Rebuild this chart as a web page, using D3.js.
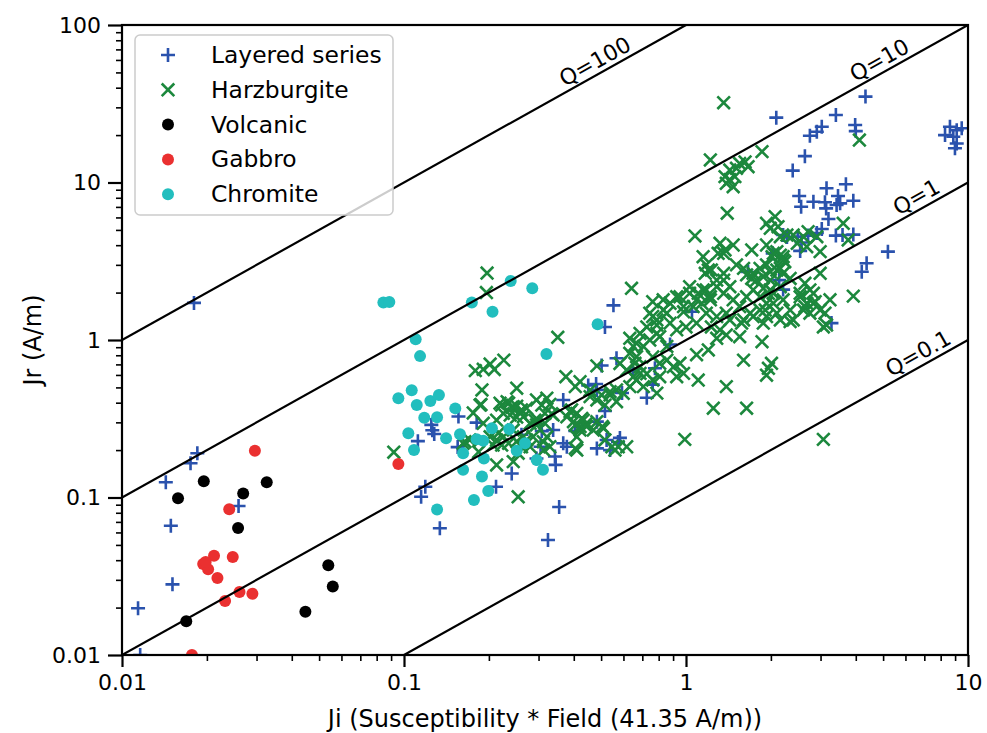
<!DOCTYPE html>
<html>
<head>
<meta charset="utf-8">
<script src="https://cdn.jsdelivr.net/npm/d3@7/dist/d3.min.js"></script>
<style>
  body { margin: 0; background: #fff; }
  svg { display: block; }
  text { font-family: "DejaVu Sans", "Liberation Sans", sans-serif; fill: #000; }
</style>
</head>
<body>
<svg id="chart" width="987" height="733"></svg>
<script>
// ---- data: [Ji, Jr] pairs in A/m ----
const layered = [
  [0.0185,0.191],[0.0175,0.165],[0.0143,0.125],[0.0259,0.0883],[0.0149,0.0662],[0.0151,0.0281],
  [0.0114,0.0198],[0.0116,0.01],[0.018,1.72],
  [0.156,0.327],[0.181,0.299],[0.125,0.289],[0.126,0.267],[0.128,0.253],[0.112,0.228],[0.155,0.209],
  [0.119,0.117],[0.115,0.101],[0.241,0.142],[0.212,0.117],[0.134,0.0638],[0.355,0.087],[0.324,0.0537],
  [0.308,0.264],[0.338,0.268],[0.378,0.21],[0.343,0.182],[0.345,0.161],[0.261,0.25],[0.305,0.21],
  [0.295,0.177],[0.367,0.416],[0.405,0.265],[0.432,0.296],[0.483,0.303],[0.516,0.354],[0.483,0.205],
  [0.523,0.232],[0.583,0.239],[0.574,0.225],[0.538,0.2],[0.45,0.514],[0.48,0.525],[0.483,0.482],
  [0.502,0.689],[0.567,0.765],[0.553,1.66],[0.516,1.21],[0.647,0.645],[0.776,0.661],[0.762,0.521],
  [0.726,0.43],[0.593,0.461],[0.878,0.937],[1.05,1.51],[0.367,0.221],
  [2.09,25.8],[3.4,26.8],[4.33,35.1],[3.98,23.2],[4.0,21.2],[3.03,22.6],[2.91,21.0],[2.75,19.8],
  [2.64,14.7],[2.39,11.9],[3.15,9.2],[3.69,9.74],[2.52,8.21],[2.56,7.02],[2.83,7.55],[3.11,7.5],
  [3.14,6.85],[3.46,8.2],[3.52,7.37],[3.42,7.19],[3.92,7.66],[3.2,5.87],[3.03,5.07],[2.91,4.78],
  [2.21,4.64],[2.49,4.53],[2.57,4.16],[2.54,3.68],[3.4,4.6],[3.59,4.64],[3.92,4.67],[2.03,3.55],
  [5.2,3.64],[4.37,3.07],[4.2,2.71],[1.66,2.7],[2.14,2.4],[2.21,2.09],[3.28,1.28],[2.28,4.5],
  [2.71,4.6],
  [8.63,22.6],[9.12,21.5],[9.5,22.1],[8.29,20.0],[8.87,19.5],[9.12,17.7],[8.99,16.5]
];

const harzburgite = [
  [0.092,0.194],[0.197,2.66],[0.196,2.0],[0.179,0.639],[0.191,0.652],[0.202,0.704],[0.209,0.65],
  [0.226,0.745],[0.189,0.482],[0.1875,0.389],[0.176,0.344],[0.251,0.494],[0.222,0.386],[0.235,0.397],
  [0.241,0.374],[0.251,0.38],[0.261,0.36],[0.272,0.369],[0.225,0.342],[0.238,0.334],[0.251,0.324],
  [0.265,0.326],[0.28,0.296],[0.295,0.416],[0.308,0.386],[0.321,0.427],[0.329,0.39],[0.334,0.34],
  [0.316,0.342],[0.299,0.31],[0.375,0.585],[0.405,0.506],[0.421,0.544],[0.457,0.48],[0.483,0.685],
  [0.388,0.351],[0.41,0.342],[0.427,0.318],[0.444,0.296],[0.421,0.282],[0.399,0.303],[0.378,0.325],
  [0.483,0.416],[0.502,0.448],[0.516,0.386],[0.538,0.448],[0.567,0.482],[0.312,0.226],[0.313,0.2],
  [0.329,0.21],[0.321,0.243],[0.272,0.232],[0.287,0.243],[0.28,0.21],[0.254,0.191],[0.244,0.169],
  [0.213,0.161],[0.1645,0.226],[0.184,0.195],[0.216,0.256],[0.225,0.243],[0.235,0.221],[0.251,0.227],
  [0.261,0.21],[0.222,0.215],[0.254,0.101],[0.516,0.232],[0.51,0.275],[0.546,0.21],[0.575,0.21],
  [0.41,0.2],[0.186,0.386],[0.219,0.397],[0.232,0.406],[0.244,0.377],[0.258,0.351],[0.213,0.31],
  [0.191,0.296],[0.291,0.31],[0.316,0.296],[0.338,0.334],[0.393,0.36],[0.432,0.31],[0.405,0.289],
  [0.444,0.282],[0.421,0.268],[0.469,0.268],[0.483,0.303],[0.505,0.282],[0.457,0.437],[0.538,0.47],
  [0.567,0.406],[0.599,0.459],[0.632,0.506],[0.65,0.585],[0.659,0.711],[0.632,1.025],[0.668,0.953],
  [0.295,0.289],[0.265,0.243],[0.244,0.268],[0.207,0.215],[0.213,0.232],[0.162,0.221],[0.171,0.232],
  [0.202,0.243],[0.405,0.205],[0.41,0.243],[0.56,0.2],[0.616,0.21],[0.687,0.614],[0.351,1.04],
  [0.641,2.13],[0.583,0.71],[0.616,0.645],[0.632,0.823],[0.668,0.783],[0.706,0.91],[0.744,1.0],
  [0.807,1.05],[0.855,0.91],[0.762,0.78],[0.687,0.676],[0.726,0.61],[0.807,0.711],[0.855,0.745],
  [0.902,0.676],[0.952,0.711],[0.98,0.614],[0.927,0.585],[0.668,0.557],[0.706,0.506],[0.762,0.557],
  [0.788,0.46],[0.807,0.585],[0.744,1.48],[0.788,1.34],[0.83,1.55],[0.878,1.71],[0.927,1.88],
  [0.98,1.63],[1.03,1.98],[1.09,1.8],[1.15,2.08],[1.22,1.88],[1.285,2.18],[1.36,1.98],[1.43,2.18],
  [1.47,1.8],[1.55,1.63],[1.64,1.88],[1.73,2.08],[1.83,1.88],[1.93,1.71],[2.04,1.98],[1.83,1.55],
  [1.73,1.41],[1.93,1.41],[1.39,1.48],[1.285,1.41],[1.18,1.48],[1.09,1.28],[1.0,1.21],[0.927,1.16],
  [0.878,1.28],[0.726,1.21],[0.687,1.1],[0.65,0.91],[0.788,1.1],[0.762,1.75],[0.83,1.8],[0.952,1.88],
  [1.03,2.18],[1.105,1.98],[1.18,2.08],[1.22,1.8],[1.137,1.71],[1.06,1.63],[0.98,1.51],[0.855,1.48],
  [0.762,1.41],[0.788,1.245],[1.23,1.21],[1.32,1.16],[1.285,1.025],[1.39,1.076],[1.55,1.05],
  [1.575,1.28],[1.86,0.975],[1.2,0.865],[1.09,0.807],[1.105,0.557],[1.6,0.745],[2.01,0.711],
  [1.96,0.661],[1.93,0.598],[1.39,0.506],[1.25,0.369],[1.64,0.369],[0.99,0.234],[3.07,0.234],
  [2.34,1.31],[2.61,1.55],[2.83,1.71],[3.11,1.48],[3.07,1.21],[3.24,1.8],[2.54,1.88],[3.92,1.9],
  [3.15,1.245],[2.4,1.34],[2.75,1.48],[2.87,1.75],[2.99,1.55],[2.68,1.71],[2.21,1.8],[2.04,1.71],
  [1.91,1.55],[2.1,1.48],[2.34,1.55],[2.16,1.34],[1.88,1.28],[1.6,1.34],[1.43,1.34],[1.69,1.48],
  [1.99,2.08],[1.88,2.52],[1.96,1.98],[2.16,2.18],[1.88,2.13],[1.99,2.4],[2.64,2.29],[2.75,2.08],
  [2.64,1.63],[2.99,2.65],[2.83,1.98],[2.54,1.98],[1.71,2.46],[1.93,3.0],[1.99,2.71],[2.16,2.85],
  [2.21,2.65],[2.34,2.46],[1.6,2.85],[1.64,2.59],[1.73,2.65],[1.78,2.4],[1.36,2.65],[1.285,2.4],
  [1.36,2.4],[1.15,3.38],[1.18,3.0],[1.2,2.78],[1.17,2.65],[1.23,2.78],[1.51,3.0],[1.83,2.85],
  [1.71,3.73],[1.32,4.11],[1.47,4.01],[1.36,3.55],[1.93,4.01],[2.04,3.55],[2.21,3.38],[2.4,4.64],
  [2.48,4.11],[1.076,4.58],[1.3,3.55],[1.375,3.73],[2.1,3.64],[2.02,3.38],[2.21,3.22],[2.07,6.07],
  [1.93,5.51],[1.99,5.12],[2.12,5.24],[2.28,4.64],[2.16,4.53],[2.61,4.53],[2.71,4.87],[2.91,4.53],
  [2.68,3.91],[2.99,3.64],[2.16,3.46],[2.24,3.14],[2.1,2.78],[3.61,5.51],[3.76,4.32],[1.4,6.38],
  [1.86,15.7],[1.22,13.9],[1.55,13.2],[1.62,13.5],[1.66,12.6],[1.51,12.3],[1.43,12.0],[1.375,10.9],
  [1.43,10.4],[1.49,10.9],[1.39,9.88],[1.47,9.41],[1.36,32.1],[4.12,18.6]
];

const volcanic = [
  [0.0158,0.099],[0.0195,0.127],[0.0269,0.106],[0.0326,0.125],[0.0258,0.064],
  [0.0539,0.0371],[0.0559,0.0272],[0.0447,0.0188],[0.0169,0.0164]
];

const gabbro = [
  [0.0296,0.198],[0.024,0.0841],[0.0212,0.0427],[0.0194,0.0378],[0.0202,0.035],[0.0198,0.039],
  [0.0247,0.0419],[0.0218,0.0308],[0.0261,0.0251],[0.029,0.0245],[0.0232,0.022],[0.0177,0.01],
  [0.0955,0.163]
];

const chromite = [
  [0.0845,1.73],[0.0887,1.74],[0.174,1.73],[0.206,1.51],[0.239,2.37],[0.285,2.13],[0.11,1.01],
  [0.114,0.79],[0.32,0.815],[0.486,1.26],[0.0955,0.427],[0.1065,0.48],[0.111,0.387],[0.124,0.41],
  [0.133,0.448],[0.152,0.368],[0.118,0.321],[0.131,0.323],[0.1036,0.256],[0.1085,0.2],[0.141,0.238],
  [0.158,0.252],[0.162,0.191],[0.181,0.234],[0.191,0.229],[0.192,0.177],[0.205,0.275],[0.236,0.272],
  [0.251,0.198],[0.162,0.15],[0.189,0.136],[0.199,0.11],[0.177,0.0964],[0.131,0.084],[0.2685,0.221],
  [0.2955,0.173],[0.311,0.15]
];

// Q = Jr / Ji reference lines
const qValues = [100, 10, 1, 0.1];
const qLabels = ["Q=100", "Q=10", "Q=1", "Q=0.1"];
const qLabelJi = [0.5, 5.1, 6.9, 7.0];   // where along each line its label sits

const xTicks = [0.01, 0.1, 1, 10];
const yTicks = [0.01, 0.1, 1, 10, 100];
const xTickLabels = ["0.01", "0.1", "1", "10"];
const yTickLabels = ["0.01", "0.1", "1", "10", "100"];

const series = [
  { name: "Layered series", data: layered,     shape: "plus",   color: "#2a52ad" },
  { name: "Harzburgite",    data: harzburgite, shape: "cross",  color: "#1c883d" },
  { name: "Volcanic",       data: volcanic,    shape: "circle", color: "#000000" },
  { name: "Gabbro",         data: gabbro,      shape: "circle", color: "#ea3030" },
  { name: "Chromite",       data: chromite,    shape: "circle", color: "#22bebe" }
];

// ---- layout ----
const plot = { left: 122, right: 968, top: 25, bottom: 655 };
const tickFont = "22px", titleFont = "24px", legendFont = "23.4px";

const svg = d3.select("#chart");
const x = d3.scaleLog().domain([0.01, 10]).range([plot.left, plot.right]);
const y = d3.scaleLog().domain([0.01, 100]).range([plot.bottom, plot.top]);

svg.append("defs").append("clipPath").attr("id", "plotClip")
  .append("rect")
  .attr("x", plot.left).attr("y", plot.top)
  .attr("width", plot.right - plot.left).attr("height", plot.bottom - plot.top);

const minorValues = (lo, hi) => {
  const out = [];
  for (let e = Math.log10(lo); e < Math.log10(hi); e++)
    for (let m = 2; m <= 9; m++) out.push(m * Math.pow(10, e));
  return out;
};

// ---- markers ----
const markerLayer = svg.append("g").attr("clip-path", "url(#plotClip)");
const plusPath = "M-7,0H7M0,-7V7";
const crossPath = "M-6.3,-6.3L6.3,6.3M-6.3,6.3L6.3,-6.3";

function drawMarker(sel, shape, color) {
  if (shape === "circle") {
    sel.append("circle").attr("r", 6).attr("fill", color);
  } else {
    sel.append("path")
      .attr("d", shape === "plus" ? plusPath : crossPath)
      .attr("fill", "none").attr("stroke", color).attr("stroke-width", 2.6);
  }
}

series.forEach(s => {
  const g = markerLayer.append("g");
  s.data.forEach(d => {
    const m = g.append("g").attr("transform", `translate(${x(d[0])},${y(d[1])})`);
    drawMarker(m, s.shape, s.color);
  });
});

// ---- Q lines ----
const lineLayer = svg.append("g").attr("clip-path", "url(#plotClip)");
const line = d3.line().x(d => x(d[0])).y(d => y(d[1]));
qValues.forEach(q => {
  const lo = Math.max(0.01, 0.01 / q), hi = Math.min(10, 100 / q);
  lineLayer.append("path")
    .attr("d", line([[lo, q * lo], [hi, q * hi]]))
    .attr("fill", "none").attr("stroke", "#000").attr("stroke-width", 2.2);
});

// labels along each line
qValues.forEach((q, i) => {
  const ji = qLabelJi[i];
  const px = x(ji), py = y(q * ji);
  const ang = Math.atan2(y(10) - y(1), x(10) - x(1));
  const off = 12.5;
  const cx = px + Math.sin(ang) * off, cy = py - Math.cos(ang) * off;
  svg.append("text")
    .attr("transform", `translate(${cx},${cy}) rotate(${ang * 180 / Math.PI})`)
    .attr("text-anchor", "middle").attr("dominant-baseline", "central")
    .style("font-size", "22px")
    .text(qLabels[i]);
});

// ---- axes ----
const xAxis = svg.append("g").attr("transform", `translate(0,${plot.bottom})`)
  .call(d3.axisBottom(x).tickValues(xTicks).tickSize(12).tickPadding(7)
    .tickFormat((d, i) => xTickLabels[i]));
svg.append("g").attr("transform", `translate(0,${plot.bottom})`)
  .call(d3.axisBottom(x).tickValues(minorValues(0.01, 10)).tickSize(6).tickFormat(""))
  .call(g => g.select(".domain").remove())
  .selectAll("line").attr("stroke-width", 1.6);

const yAxis = svg.append("g").attr("transform", `translate(${plot.left},0)`)
  .call(d3.axisLeft(y).tickValues(yTicks).tickSize(14).tickPadding(7)
    .tickFormat((d, i) => yTickLabels[i]));
svg.append("g").attr("transform", `translate(${plot.left},0)`)
  .call(d3.axisLeft(y).tickValues(minorValues(0.01, 100)).tickSize(6).tickFormat(""))
  .call(g => g.select(".domain").remove())
  .selectAll("line").attr("stroke-width", 1.6);

[xAxis, yAxis].forEach(a => {
  a.select(".domain").remove();
  a.selectAll(".tick line").attr("stroke-width", 2.2);
  a.selectAll(".tick text").style("font-size", tickFont)
    .style("font-family", '"DejaVu Sans", sans-serif');
});

// frame
svg.append("rect")
  .attr("x", plot.left).attr("y", plot.top)
  .attr("width", plot.right - plot.left).attr("height", plot.bottom - plot.top)
  .attr("fill", "none").attr("stroke", "#000").attr("stroke-width", 2.2);

// axis titles
svg.append("text")
  .attr("x", (plot.left + plot.right) / 2).attr("y", 727)
  .attr("text-anchor", "middle").style("font-size", titleFont)
  .text("Ji (Susceptibility * Field (41.35 A/m))");
svg.append("text")
  .attr("transform", `translate(41,${(plot.top + plot.bottom) / 2}) rotate(-90)`)
  .attr("text-anchor", "middle").style("font-size", titleFont)
  .text("Jr (A/m)");

// ---- legend ----
const legend = svg.append("g").attr("transform", "translate(135,35)");
legend.append("rect")
  .attr("width", 258).attr("height", 180).attr("rx", 5)
  .attr("fill", "#fff").attr("fill-opacity", 0.8)
  .attr("stroke", "#cccccc").attr("stroke-width", 1.5);
series.forEach((s, i) => {
  const row = legend.append("g").attr("transform", `translate(0,${20 + i * 34.8})`);
  drawMarker(row.append("g").attr("transform", "translate(33,0)"), s.shape, s.color);
  row.append("text").attr("x", 76).attr("y", 0)
    .attr("dominant-baseline", "central").style("font-size", legendFont)
    .text(s.name);
});
</script>
</body>
</html>
